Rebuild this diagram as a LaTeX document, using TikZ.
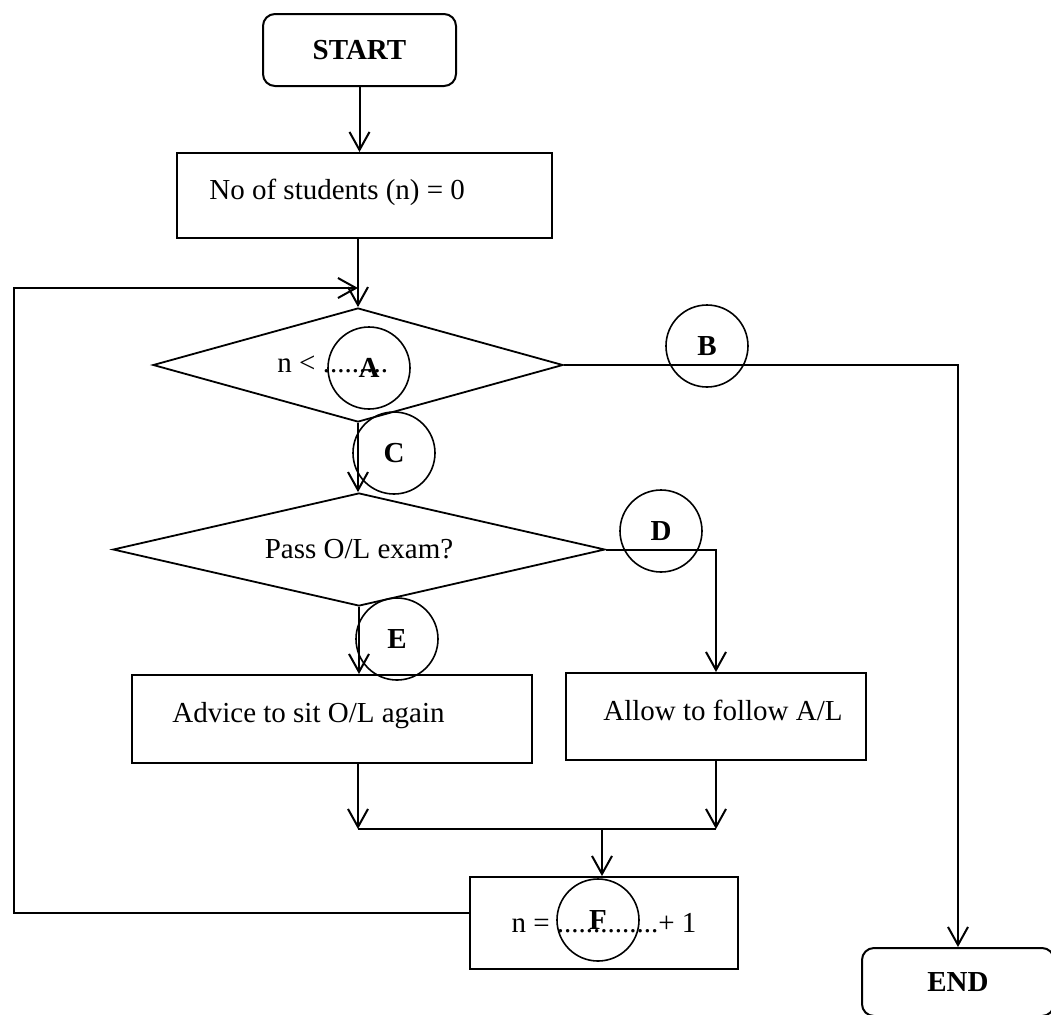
\documentclass[tikz,border=0pt]{standalone}
\usepackage{fontspec}
\setmainfont{Liberation Serif}
\usetikzlibrary{shapes.geometric,arrows.meta}

\begin{document}
\begin{tikzpicture}[x=0.5pt,y=-0.5pt,
	every node/.style={font=\fontsize{14.5}{17}\selectfont},
	box/.style={draw,line width=1pt,inner sep=0pt},
	term/.style={box,rounded corners=6pt},
	cond/.style={draw,diamond,aspect=4.3,line width=0.9pt,inner sep=0pt},
	tag/.style={draw,circle,line width=0.8pt,minimum size=41pt,inner sep=0pt,font=\fontsize{14.5}{17}\selectfont\bfseries},
	txt/.style={inner sep=0pt,anchor=base west},
	link/.style={line width=1pt},
	flow/.style={link,-{Straight Barb[length=9pt,width=10pt]}}]
	\useasboundingbox (0,0) rectangle (1051,1014);
	% boxes
	\node[term,minimum width=96.5pt,minimum height=36pt] (start) at (359.5,50) {\bfseries START};
	\node[box,minimum width=187.5pt,minimum height=42.5pt] (init) at (364.5,195.5) {};
	\node[txt] (tinit) at (209,199) {No of students (n) = 0};
	\node[cond,minimum width=205pt,minimum height=57pt] (d1) at (358,365) {};
	\node[txt] (tcount) at (277,372) {n < .........};
	\node[cond,minimum width=246pt,minimum height=56.5pt] (d2) at (359,549.5) {Pass O/L exam?};
	\node[box,minimum width=200pt,minimum height=44pt] (advice) at (332,719) {};
	\node[txt] (tadvice) at (172,722) {Advice to sit O/L again};
	\node[box,minimum width=150pt,minimum height=43.5pt] (allow) at (716,716.5) {};
	\node[txt] (tallow) at (603,720) {Allow to follow A/L};
	\node[box,minimum width=134pt,minimum height=46pt] (incr) at (604,923) {n = ..............+ 1};
	\node[term,minimum width=96pt,minimum height=34pt] (end) at (958,982) {\bfseries END};
	% answer circles
	\node[tag] (A) at (369,368) {A};
	\node[tag] (B) at (707,346) {B};
	\node[tag] (C) at (394,453) {C};
	\node[tag] (D) at (661,531) {D};
	\node[tag] (E) at (397,639) {E};
	\node[tag] (F) at (598,920) {F};
	% connectors
	\coordinate (loopb) at (14,913);
	\coordinate (loopt) at (14,288);
	\coordinate (jl) at (358,829);
	\coordinate (jr) at (716,829);
	\coordinate (jm) at (602,829);
	\draw[flow] (start.south) -- (start.south |- init.north);
	\draw[flow] (d1.north |- init.south) -- (d1.north);
	\draw[flow] (incr.west |- loopb) -- (loopb) -- (loopt) -- (loopt -| d1.north);
	\draw[flow] (d1.east) -| (end.north);
	\draw[flow] (d1.south) -- (d1.south |- d2.north);
	\draw[flow] (d2.east) -| (allow.north);
	\draw[flow] (d2.south) -- (d2.south |- advice.north);
	\draw[flow] (jl |- advice.south) -- (jl);
	\draw[flow] (allow.south) -- (jr);
	\draw[link] (jl) -- (jr);
	\draw[flow] (jm) -- (jm |- incr.north);
\end{tikzpicture}
\end{document}
